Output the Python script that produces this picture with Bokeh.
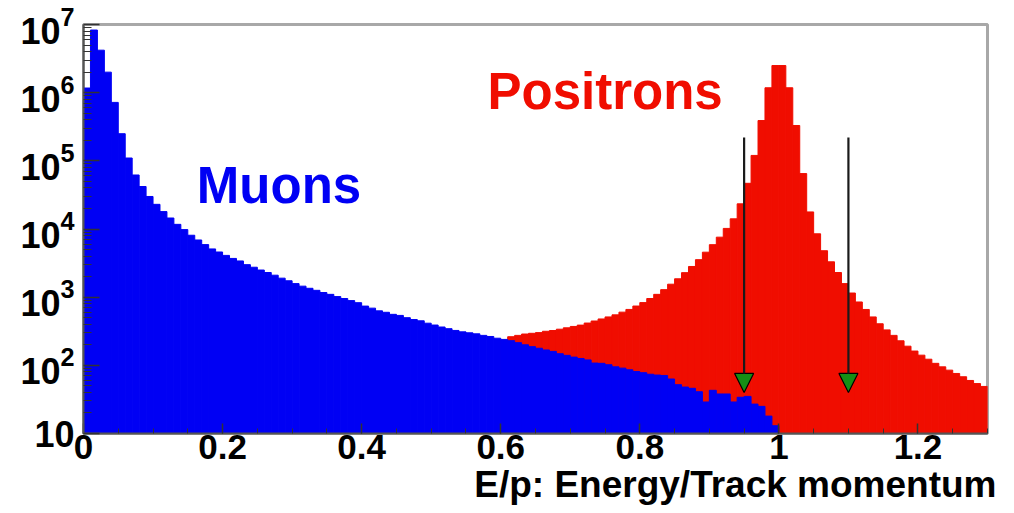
import numpy as np
from bokeh.plotting import figure
from bokeh.models import (ColumnDataSource, Range1d, FixedTicker, Arrow, NormalHead,
                          Label, Title, LogTickFormatter)
from bokeh.embed import file_html
from bokeh.resources import INLINE

# ---------------- data ----------------
BIN_WIDTH = 0.01

muon_start = 0.00
muon_counts = [
    1.17e6, 8.3e6, 4.2e6, 2.0e6, 7.2e5, 2.5e5, 1.1e5, 6.2e4, 4.2e4, 3.0e4,
    2.3e4, 1.8e4, 1.45e4, 1.17e4, 9800, 8100, 6900, 5900, 5100, 4600,
    4100, 3700, 3400, 3000, 2750, 2500, 2300, 2100, 1900, 1740,
    1580, 1450, 1350, 1260, 1170, 1100, 1020, 955, 890, 830,
    740, 690, 630, 600, 560, 540, 500, 470, 450, 415,
    390, 365, 345, 325, 310, 300, 290, 275, 265, 250,
    240, 230, 215, 200, 188, 178, 168, 160, 148, 140,
    132, 126, 120, 108, 107, 102, 95, 91, 86, 81,
    78, 74, 72, 71, 63, 52, 48, 46, 41, 29,
    43, 38, 38, 29, 34, 35, 27, 25, 18, 13,
]

positron_start = 0.60
positron_counts = [
    234, 263, 275, 288, 295, 302, 316, 324, 339, 355,
    372, 389, 417, 447, 479, 513, 550, 603, 661, 741,
    832, 955, 1100, 1290, 1550, 1860, 2290, 2820, 3550, 4570,
    5890, 7590, 10200, 14100, 23400, 46800, 1.2e5, 3.9e5, 1.18e6, 2.5e6,
    2.5e6, 1.18e6, 3.3e5, 6.5e4, 1.78e4, 8500, 4800, 3300, 2300, 1580,
    1150, 850, 660, 513, 407, 331, 275, 229, 191, 162,
    141, 123, 107, 95, 85, 76, 68, 60, 54, 49,
]

cut_values = [0.95, 1.10]
cut_arrow_top = 2.2e5
cut_arrow_tip = 40

x_ticks = [0.0, 0.2, 0.4, 0.6, 0.8, 1.0, 1.2]
x_tick_labels = ["0", "0.2", "0.4", "0.6", "0.8", "1", "1.2"]
y_ticks = [1e1, 1e2, 1e3, 1e4, 1e5, 1e6, 1e7]
series_labels = ["Muons", "Positrons"]
x_title = "E/p: Energy/Track momentum"

# ---------------- style ----------------
FONT = "Liberation Sans"
BLUE = "#0000f4"
RED = "#f00d00"
GREEN = "#158f15"


def hist_source(start, counts):
    n = len(counts)
    left = start + BIN_WIDTH * np.arange(n)
    return ColumnDataSource(dict(left=left, right=left + BIN_WIDTH,
                                 top=np.asarray(counts, dtype=float),
                                 bottom=np.full(n, 1.0)))


p = figure(width=1014, height=513,
           x_range=Range1d(0, 1.3), y_range=Range1d(10, 1e7),
           y_axis_type="log", output_backend="svg", toolbar_location=None,
           min_border_left=83, min_border_right=27,
           min_border_top=24, min_border_bottom=80,
           background_fill_color="white", border_fill_color="white")

p.xgrid.visible = False
p.ygrid.visible = False
p.outline_line_color = "#a8a8a8"
p.outline_line_width = 3

# histograms: positrons first, muons drawn on top
p.quad(left="left", right="right", top="top", bottom="bottom",
       source=hist_source(positron_start, positron_counts),
       fill_color=RED, line_color=RED, line_width=1)
p.quad(left="left", right="right", top="top", bottom="bottom",
       source=hist_source(muon_start, muon_counts),
       fill_color=BLUE, line_color=BLUE, line_width=1)

# cut arrows
for cv in cut_values:
    p.add_layout(Arrow(end=NormalHead(size=19, fill_color=GREEN, line_color="black",
                                      line_width=1.2),
                       x_start=cv, y_start=cut_arrow_top, x_end=cv, y_end=cut_arrow_tip,
                       line_color="#1a1a1a", line_width=2.2))

# series labels
p.add_layout(Label(x=0.163, y=4.4e4, text=series_labels[0], text_color=BLUE,
                   text_font=FONT, text_font_style="bold", text_font_size="51px",
                   text_baseline="alphabetic", text_align="left"))
p.add_layout(Label(x=0.581, y=1.03e6, text=series_labels[1], text_color=RED,
                   text_font=FONT, text_font_style="bold", text_font_size="51px",
                   text_baseline="alphabetic", text_align="left"))

# x axis
xa = p.xaxis[0]
xa.ticker = FixedTicker(ticks=x_ticks,
                        minor_ticks=[round(v, 2) for v in np.arange(0, 1.3001, 0.05)])
xa.major_label_overrides = dict(zip(x_ticks, x_tick_labels))
xa.major_label_text_font = FONT
xa.major_label_text_font_style = "bold"
xa.major_label_text_font_size = "35px"
xa.major_label_text_color = "black"
xa.major_label_standoff = 1
xa.major_tick_in = 10
xa.major_tick_out = 0
xa.minor_tick_in = 5
xa.minor_tick_out = 0
xa.major_tick_line_color = "#333333"
xa.minor_tick_line_color = "#333333"
xa.major_tick_line_width = 1.5
xa.axis_line_color = "#555555"
xa.axis_line_width = 2

# x title, right aligned under the axis
p.add_layout(Title(text=x_title, align="right", text_font=FONT, text_font_style="bold",
                   text_font_size="37px", text_color="black", standoff=0, offset=-9),
             "below")

# y axis
ya = p.yaxis[0]
ya.ticker = FixedTicker(ticks=y_ticks,
                        minor_ticks=[m * 10.0 ** e for e in range(1, 7) for m in range(2, 10)])
ya.formatter = LogTickFormatter(min_exponent=2)
ya.major_label_text_font = FONT
ya.major_label_text_font_style = "bold"
ya.major_label_text_font_size = "36px"
ya.major_label_text_color = "black"
ya.major_label_standoff = 9
ya.major_tick_in = 16
ya.major_tick_out = 0
ya.minor_tick_in = 8
ya.minor_tick_out = 0
ya.major_tick_line_color = "#333333"
ya.minor_tick_line_color = "#333333"
ya.major_tick_line_width = 1.5
ya.axis_line_color = "#555555"
ya.axis_line_width = 2

open("out.html", "w").write(file_html(p, INLINE))
